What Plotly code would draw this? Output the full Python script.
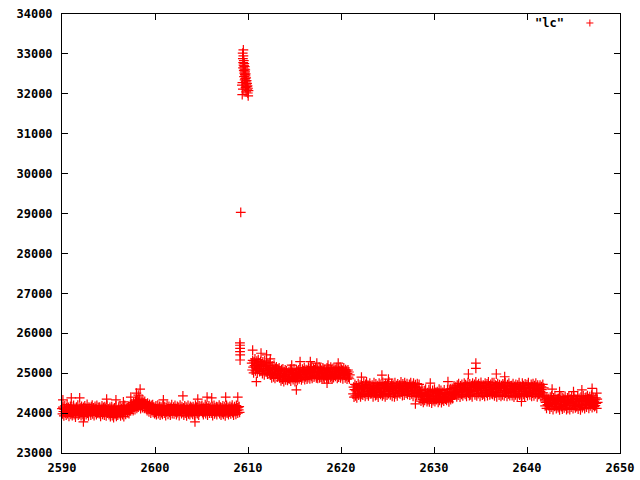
import plotly.graph_objects as go

cadence = 0.05

segA_t0 = 2590.0
segA_flux = [
    24110, 23980, 24150, 24040, 23930, 24090, 24180, 24000, 24070, 23950, 24130, 24210, 23990, 24060, 24140, 23920, 24080, 24020, 24170, 23970,
    24030, 24160, 23940, 24100, 24010, 24190, 23960, 24070, 24120, 23900, 24050, 24150, 23990, 24080, 24200, 23950, 24040, 24110, 23980, 24130,
    24090, 23940, 24170, 24020, 24100, 23970, 24140, 24060, 23910, 24180, 24030, 24120, 23960, 24080, 24220, 24000, 24050, 23930, 24150, 24070,
    24120, 24010, 23950, 24160, 24040, 24200, 23980, 24090, 24130, 23940, 24060, 24170, 24020, 24110, 23960, 24190, 24050, 24000, 24140, 24080,
    23990, 24150, 24070, 23920, 24110, 24030, 24180, 23970, 24090, 24140, 24010, 23950, 24160, 24060, 24120, 23930, 24080, 24200, 24000, 24050,
    24100, 23960, 24020, 24140, 23910, 24070, 24000, 24160, 23940, 24050, 24110, 23890, 24080, 24130, 23970, 24040, 24180, 23920, 24060, 24010,
    23950, 24090, 24150, 23990, 24030, 24170, 23930, 24080, 24120, 24000, 23960, 24140, 24050, 23910, 24100, 24190, 24020, 23970, 24110, 24070,
    24130, 24010, 24090, 24170, 23990, 24110, 24050, 24200, 24060, 24140, 24230, 24100, 24180, 24060, 24270, 24150, 24210, 24090, 24300, 24170,
    24260, 24120, 24330, 24200, 24150, 24290, 24180, 24350, 24230, 24110, 24310, 24190, 24270, 24140, 24330, 24210, 24250, 24120, 24290, 24170,
    24230, 24110, 24200, 24060, 24250, 24140, 24180, 24030, 24220, 24100, 24160, 24000, 24190, 24070, 24130, 24210, 24020, 24150, 24090, 23990,
    24140, 24020, 24180, 23960, 24100, 24060, 24200, 23990, 24120, 24040, 24170, 23950, 24090, 24150, 24010, 24110, 23970, 24190, 24050, 24130,
    24000, 24160, 24080, 23940, 24130, 24030, 24190, 24060, 23970, 24110, 24170, 24020, 24090, 23950, 24140, 24050, 24210, 23990, 24100, 24060,
    24150, 23980, 24070, 24190, 24030, 24120, 23960, 24100, 24170, 24010, 24080, 24140, 23940, 24060, 24200, 24040, 24110, 23990, 24160, 24090,
    24020, 24130, 23950, 24090, 24180, 24000, 24070, 24150, 23930, 24110, 24040, 24190, 23980, 24080, 24120, 23960, 24170, 24050, 24010, 24140,
    24100, 23970, 24160, 24040, 24120, 23940, 24080, 24200, 24010, 24150, 24060, 23990, 24130, 24090, 23950, 24180, 24030, 24110, 24070, 24170,
    24050, 24190, 24010, 24120, 23960, 24140, 24080, 24030, 24210, 23990, 24100, 24160, 24040, 23950, 24130, 24070, 24180, 24000, 24110, 24060,
    24140, 24000, 24090, 24170, 23940, 24110, 24050, 24190, 23980, 24130, 24070, 24020, 24160, 23960, 24100, 24150, 24030, 24080, 24200, 23990,
    24090, 24150, 23950, 24070, 24130, 24010, 24180, 23970, 24100, 24040, 24160, 23930, 24120, 24060, 24190, 24000, 24080, 24140, 23960, 24110,
    24030, 24170, 24090, 23980, 24140, 24050, 24200, 24010, 24120, 23950, 24080, 24160, 24040, 24110, 23970, 24190, 24060, 24130, 24000, 24150,
    24080, 24160, 24020,
]

segC_t0 = 2610.4
segC_flux = [
    25250, 25080, 25320, 25150, 25010, 25280, 25190, 25360, 25060, 25230, 25120, 25300, 25000, 25210, 25340, 25100, 25260, 25040, 25170, 25290,
    25060, 25220, 25150, 24990, 25280, 25100, 25200, 24960, 25310, 25080, 25170, 25030, 25250, 25120, 24980, 25230, 25070, 25190, 25010, 25270,
    24950, 25140, 25030, 24880, 25180, 24990, 25090, 24910, 25200, 25050, 24870, 25120, 24970, 25160, 25010, 24900, 25100, 24940, 25070, 25130,
    24880, 25050, 24940, 24810, 25090, 24990, 24850, 25110, 24920, 24790, 25030, 24960, 25080, 24830, 24900, 25060, 24970, 24820, 25010, 24870,
    25040, 24860, 24980, 25100, 24800, 24930, 25070, 24890, 25020, 24840, 24950, 25110, 24910, 24790, 25000, 24870, 25080, 24940, 24820, 25050,
    24920, 25080, 24860, 25010, 25130, 24900, 25040, 24830, 24970, 25100, 24880, 25060, 24950, 25140, 24840, 25020, 24910, 25090, 24990, 24850,
    25070, 24890, 25150, 24960, 25040, 24860, 25110, 25000, 24920, 25160, 24870, 25050, 24980, 25120, 24900, 25080, 24940, 25140, 25020, 24880,
    24930, 25100, 24870, 25050, 24960, 25150, 24880, 25020, 25120, 24900, 25070, 24850, 24990, 25130, 24910, 25060, 24860, 25090, 25010, 24940,
    25060, 24880, 25130, 24940, 25020, 24860, 25110, 24970, 25040, 24900, 25150, 24920, 25080, 24850, 25000, 25120, 24890, 25050, 24950, 25100,
    24920, 25090, 24980, 25140, 24870, 25030, 25110, 24900, 25060, 24960, 25150, 24880, 25020, 25100, 24940, 25070, 24860, 25010, 25130, 24950,
    25020, 24880, 25090, 24930, 25050, 24850, 24990, 25080, 24900, 25030, 24860, 24960,
]

segD_t0 = 2621.3
segD_flux = [
    24480, 24650, 24400, 24590, 24720, 24430, 24560, 24680, 24380, 24610, 24500, 24740, 24450, 24630, 24530, 24700, 24410, 24580, 24660, 24470,
    24680, 24450, 24610, 24760, 24500, 24640, 24420, 24720, 24560, 24780, 24470, 24600, 24700, 24430, 24660, 24540, 24750, 24480, 24620, 24570,
    24490, 24700, 24550, 24410, 24660, 24760, 24520, 24630, 24440, 24730, 24580, 24460, 24690, 24600, 24400, 24650, 24750, 24510, 24620, 24470,
    24720, 24530, 24650, 24430, 24770, 24580, 24470, 24690, 24620, 24410, 24740, 24560, 24660, 24450, 24710, 24590, 24490, 24780, 24540, 24640,
    24460, 24670, 24580, 24740, 24420, 24620, 24700, 24500, 24650, 24410, 24760, 24550, 24480, 24690, 24600, 24430, 24730, 24570, 24640, 24510,
    24700, 24480, 24650, 24780, 24530, 24610, 24440, 24730, 24590, 24670, 24450, 24760, 24560, 24690, 24500, 24620, 24740, 24470, 24660, 24580,
    24530, 24720, 24450, 24640, 24760, 24570, 24480, 24690, 24610, 24420, 24750, 24550, 24660, 24490, 24710, 24580, 24440, 24630, 24740, 24520,
    24650, 24480, 24720, 24560, 24380, 24510, 24300, 24460, 24580, 24340, 24490, 24270, 24420, 24560, 24320, 24470, 24600, 24360, 24440, 24290,
    24510, 24330, 24460, 24590, 24280, 24420, 24540, 24350, 24480, 24250, 24400, 24570, 24310, 24450, 24370, 24600, 24290, 24430, 24520, 24340,
    24360, 24540, 24410, 24270, 24490, 24600, 24320, 24450, 24380, 24570, 24260, 24470, 24340, 24520, 24420, 24300, 24580, 24390, 24480, 24350,
    24500, 24320, 24460, 24590, 24370, 24430, 24280, 24550, 24410, 24610, 24340, 24480, 24400, 24620, 24360, 24520, 24450, 24680, 24500, 24640,
    24480, 24660, 24550, 24410, 24700, 24590, 24450, 24740, 24520, 24630, 24400, 24680, 24560, 24470, 24720, 24600, 24430, 24650, 24540, 24750,
    24620, 24470, 24710, 24550, 24420, 24680, 24590, 24760, 24500, 24640, 24440, 24730, 24570, 24460, 24690, 24610, 24410, 24750, 24530, 24660,
    24540, 24720, 24460, 24650, 24780, 24580, 24430, 24700, 24610, 24490, 24740, 24560, 24670, 24420, 24620, 24770, 24510, 24690, 24450, 24640,
    24700, 24480, 24630, 24420, 24750, 24570, 24660, 24510, 24730, 24440, 24600, 24780, 24530, 24680, 24460, 24640, 24720, 24490, 24590, 24760,
    24470, 24650, 24540, 24760, 24430, 24620, 24700, 24500, 24680, 24410, 24580, 24740, 24520, 24660, 24450, 24710, 24560, 24630, 24420, 24690,
    24640, 24460, 24730, 24560, 24690, 24430, 24610, 24770, 24500, 24660, 24550, 24420, 24710, 24590, 24480, 24750, 24620, 24440, 24680, 24530,
    24510, 24690, 24440, 24620, 24740, 24530, 24400, 24670, 24580, 24460, 24720, 24550, 24640, 24420, 24700, 24490, 24600, 24760, 24450, 24630,
    24670, 24480, 24600, 24430, 24750, 24560, 24690, 24470, 24620, 24410, 24730, 24540, 24650, 24500, 24710, 24440, 24580, 24760, 24520, 24640,
    24460, 24630, 24550, 24720, 24420, 24660, 24500, 24740, 24570, 24430, 24690, 24610, 24480, 24750, 24530, 24650, 24410, 24700, 24590, 24470,
    24620, 24480, 24700, 24540, 24410, 24660, 24590, 24450, 24720, 24510, 24630, 24430, 24330, 24180, 24270, 24400, 24120, 24300, 24210, 24370,
    24190, 24350, 24240, 24100, 24400, 24280, 24150, 24430, 24220, 24320, 24090, 24380, 24260, 24170, 24440, 24230, 24340, 24110, 24290, 24360,
    24310, 24140, 24370, 24200, 24080, 24330, 24250, 24410, 24160, 24290, 24100, 24390, 24220, 24350, 24130, 24270, 24420, 24180, 24300, 24090,
    24200, 24380, 24120, 24310, 24430, 24240, 24090, 24350, 24270, 24150, 24410, 24230, 24330, 24110, 24290, 24440, 24190, 24360, 24130, 24280,
    24340, 24160, 24290, 24420, 24100, 24250, 24370, 24190, 24310, 24080, 24400, 24220, 24350, 24140, 24280, 24430, 24200, 24320, 24110, 24380,
    24230, 24400, 24150, 24300, 24440, 24210, 24360, 24120, 24270, 24410, 24180, 24340, 24250, 24450, 24140, 24310, 24390, 24200, 24290, 24160,
    24330, 24190, 24380, 24240, 24120, 24350, 24270,
]

spike_time = [
    2609.50, 2609.43, 2609.50, 2609.45, 2609.55, 2609.48, 2609.60, 2609.52, 2609.58, 2609.65,
    2609.47, 2609.62, 2609.70, 2609.55, 2609.68, 2609.60, 2609.75, 2609.66, 2609.72, 2609.58,
    2609.80, 2609.70, 2609.64, 2609.85, 2609.76, 2609.40, 2609.90, 2609.82, 2609.35, 2609.95,
    2609.88, 2609.74, 2610.00, 2609.45, 2609.92, 2610.05, 2609.80, 2609.98, 2609.38, 2610.02,
    2609.13, 2609.14, 2609.15, 2609.14, 2609.16, 2609.15, 2609.22,
]
spike_flux = [
    33100, 33020, 32950, 32880, 32830, 32780, 32760, 32720, 32700, 32680,
    32650, 32620, 32600, 32580, 32550, 32520, 32500, 32480, 32450, 32430,
    32400, 32380, 32350, 32330, 32300, 32280, 32260, 32240, 32220, 32200,
    32180, 32160, 32140, 32120, 32100, 32080, 32050, 32020, 31980, 31950,
    25760, 25700, 25620, 25540, 25460, 25330, 29030,
]

outlier_time = [
    2590.1, 2591.0, 2591.9, 2594.8, 2595.8, 2596.6, 2597.4, 2598.0, 2598.4, 2598.2,
    2600.9, 2603.0, 2604.6, 2605.6, 2606.1, 2607.6, 2608.9, 2592.3, 2604.3,
    2610.5, 2611.4, 2612.0, 2612.4, 2610.9, 2615.2, 2614.7, 2615.6, 2616.7, 2617.4,
    2618.6, 2619.7, 2618.5,
    2622.2, 2624.4, 2625.1, 2629.6, 2631.5, 2628.0, 2633.7, 2634.5, 2634.5, 2636.7,
    2637.6, 2639.4, 2642.7, 2643.5, 2645.0, 2645.9, 2647.0, 2647.5,
]
outlier_flux = [
    24330, 24380, 24380, 24350, 24330, 24280, 24400, 24500, 24600, 24450,
    24330, 24430, 24350, 24400, 24380, 24400, 24400, 23780, 23780,
    25580, 25500, 25460, 25360, 24790, 24580, 25200, 25290, 25290, 25250,
    25200, 25250, 24750,
    24900, 24950, 24850, 24750, 24790, 24230, 24980, 25250, 25120, 24980,
    24910, 24290, 24600, 24540, 24540, 24580, 24620, 24500,
]

x_ticks = [2590, 2600, 2610, 2620, 2630, 2640, 2650]
y_ticks = [23000, 24000, 25000, 26000, 27000, 28000, 29000, 30000, 31000, 32000, 33000, 34000]
legend_label = '"lc"'

times, fluxes = [], []
for t0, vals in ((segA_t0, segA_flux), (segC_t0, segC_flux), (segD_t0, segD_flux)):
    for i, v in enumerate(vals):
        times.append(round(t0 + i * cadence, 4))
        fluxes.append(v)
times += spike_time + outlier_time
fluxes += spike_flux + outlier_flux

RED = "#ff0000"
FONT = dict(family="DejaVu Sans Mono", size=12, color="black", weight="bold")

fig = go.Figure()
fig.add_trace(go.Scatter(
    x=times, y=fluxes, mode="markers", name=legend_label,
    marker=dict(symbol="cross-thin", size=7, color=RED, line=dict(width=1.2, color=RED)),
    cliponaxis=False, showlegend=False,
))

axis_common = dict(
    showgrid=False, zeroline=False, showline=True, linecolor="black", linewidth=1,
    mirror="allticks", ticks="inside", ticklen=6, tickcolor="black", tickwidth=1,
    tickfont=FONT, tickformat="d", automargin=False, ticklabeloverflow="allow",
)
fig.update_xaxes(range=[2590, 2650], tickvals=x_ticks, ticklabelstandoff=4, **axis_common)
fig.update_yaxes(range=[23000, 34000], tickvals=y_ticks, ticklabelstandoff=6, **axis_common)

# gnuplot-style key: label then sample point on the right
fig.add_annotation(xref="paper", yref="paper", x=0.903, y=0.9795, text=legend_label,
                   showarrow=False, xanchor="right", yanchor="middle", font=FONT)
cx, cy, hx, hy = 0.946, 0.9795, 0.0063, 0.008
fig.add_shape(type="line", xref="paper", yref="paper", x0=cx - hx, x1=cx + hx, y0=cy, y1=cy,
              line=dict(color=RED, width=1))
fig.add_shape(type="line", xref="paper", yref="paper", x0=cx, x1=cx, y0=cy - hy, y1=cy + hy,
              line=dict(color=RED, width=1))

fig.update_layout(
    width=640, height=480,
    margin=dict(l=62, r=20, t=14, b=27),
    paper_bgcolor="white", plot_bgcolor="white",
    showlegend=False,
)
# remove the browser's default 8px body margin so the 640x480 figure fills the window exactly
fig.write_html("out.html",
               config={"displayModeBar": False},
               post_script="document.body.style.margin='0';document.body.style.overflow='hidden';")
